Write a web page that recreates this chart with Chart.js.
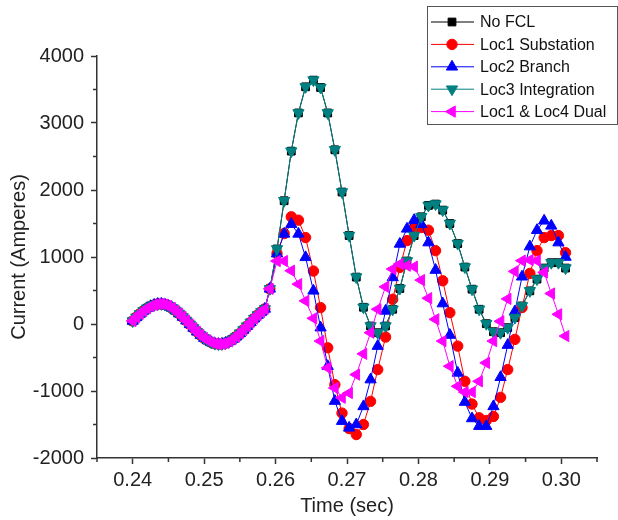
<!DOCTYPE html>
<html>
<head>
<meta charset="utf-8">
<title>Fault current with FCL locations</title>
<script src="https://cdn.jsdelivr.net/npm/chart.js"></script>
<style>
  body { margin: 0; background: #fff; }
  canvas { display: block; }
</style>
</head>
<body>
<canvas id="currentChart" width="618" height="520"></canvas>
<script>
// Before the fault every case gives the same current
const preTimes = [0.2400, 0.2405, 0.2410, 0.2415, 0.2420, 0.2425, 0.2430, 0.2435, 0.2440, 0.2445,
    0.2450, 0.2455, 0.2460, 0.2465, 0.2470, 0.2475, 0.2480, 0.2485, 0.2490, 0.2495,
    0.2500, 0.2505, 0.2510, 0.2515, 0.2520, 0.2525, 0.2530, 0.2535, 0.2540, 0.2545,
    0.2550, 0.2555, 0.2560, 0.2565, 0.2570, 0.2575, 0.2580, 0.2585, 0.2592];
const preVals = [45, 100, 150, 195, 235, 265, 285, 298, 300, 290,
    270, 240, 200, 155, 105, 50, -5, -60, -115, -165,
    -210, -245, -275, -293, -300, -297, -283, -260, -228, -188,
    -140, -88, -32, 24, 80, 133, 180, 225, 525];

// After the fault (about 1 ms between samples)
const postTimes = [0.2602, 0.2612, 0.2622, 0.2632, 0.2642, 0.2653, 0.2663, 0.2673, 0.2683, 0.2693,
    0.2703, 0.2713, 0.2723, 0.2733, 0.2743, 0.2754, 0.2764, 0.2774, 0.2784, 0.2794,
    0.2804, 0.2814, 0.2824, 0.2834, 0.2844, 0.2855, 0.2865, 0.2875, 0.2885, 0.2895,
    0.2905, 0.2915, 0.2925, 0.2935, 0.2945, 0.2956, 0.2966, 0.2976, 0.2986, 0.2996, 0.3006];
const noFclVals = [1120, 1840, 2580, 3150, 3540, 3640, 3530, 3150, 2600, 1970,
    1320, 700, 250, -30, -130, -30, 220, 530, 940, 1320,
    1600, 1770, 1790, 1700, 1500, 1200, 850, 520, 220, 5,
    -115, -130, -55, 95, 270, 495, 670, 835, 915, 915, 835];
const loc1Vals = [1050, 1350, 1600, 1550, 1290, 790, 245, -355, -905, -1330,
    -1560, -1650, -1500, -1155, -680, -195, 370, 845, 1245, 1440,
    1440, 1400, 1095, 645, 170, -330, -855, -1195, -1400, -1440,
    -1380, -1095, -680, -230, 245, 755, 1095, 1290, 1320, 1320, 1065];
const loc2Vals = [1050, 1345, 1490, 1345, 995, 495, -55, -630, -1150, -1450,
    -1550, -1500, -1230, -830, -330, 195, 695, 1195, 1420, 1550,
    1490, 1215, 805, 305, -165, -730, -1165, -1410, -1525, -1525,
    -1230, -795, -315, 185, 705, 1155, 1400, 1540, 1465, 1215, 1000];
const loc3Vals = [1120, 1840, 2580, 3150, 3540, 3640, 3530, 3150, 2600, 1970,
    1320, 700, 250, -30, -130, -30, 220, 530, 940, 1320,
    1600, 1770, 1790, 1700, 1500, 1200, 850, 520, 220, 5,
    -115, -130, -55, 95, 270, 495, 670, 835, 915, 915, 835];
const dualVals = [940, 940, 795, 595, 345, 85, -255, -655, -955, -1100,
    -1030, -755, -445, -130, 220, 555, 820, 895, 870, 855,
    655, 385, 70, -255, -630, -930, -1015, -1015, -855, -580,
    -255, 40, 375, 785, 945, 955, 945, 770, 455, 145, -180];

const seriesNames = ['No FCL', 'Loc1 Substation', 'Loc2 Branch', 'Loc3 Integration', 'Loc1 & Loc4 Dual'];

const xTicks = [0.24, 0.25, 0.26, 0.27, 0.28, 0.29, 0.30];
const xMinor = [0.235, 0.245, 0.255, 0.265, 0.275, 0.285, 0.295, 0.305];
const yTicks = [-2000, -1000, 0, 1000, 2000, 3000, 4000];
const yMinor = [-1500, -500, 500, 1500, 2500, 3500];

const FONT = "'Liberation Sans', Arial, sans-serif";
const AXIS = '#333';

function toPoints(vals) {
    const pts = preTimes.map((t, i) => ({ x: t, y: preVals[i] }));
    return pts.concat(postTimes.map((t, i) => ({ x: t, y: vals[i] })));
}

// marker looks: [colour, style, rotation, radius, draw order]
const looks = [
    ['#000000', 'rect', 0, 5.5, 4],
    ['#ff0000', 'circle', 0, 5.2, 3],
    ['#0000ff', 'triangle', 0, 6.5, 2],
    ['#008080', 'triangle', 180, 6.5, 1],
    ['#ff00ff', 'triangle', 270, 6.5, 0]
];
const allVals = [noFclVals, loc1Vals, loc2Vals, loc3Vals, dualVals];

const datasets = seriesNames.map((name, i) => ({
    label: name,
    data: toPoints(allVals[i]),
    borderColor: looks[i][0],
    backgroundColor: looks[i][0],
    borderWidth: 1,
    pointStyle: looks[i][1],
    pointRotation: looks[i][2],
    pointRadius: looks[i][3],
    pointBorderWidth: 1,
    pointBorderColor: looks[i][0],
    pointBackgroundColor: looks[i][0],
    order: looks[i][4],
    tension: 0,
    fill: false
}));

function drawMarker(ctx, style, rot, r, x, y) {
    ctx.save();
    ctx.translate(x, y);
    ctx.rotate(rot * Math.PI / 180);
    ctx.beginPath();
    if (style === 'circle') {
        ctx.arc(0, 0, r, 0, Math.PI * 2);
    } else if (style === 'rect') {
        const s = r * Math.SQRT1_2;
        ctx.rect(-s, -s, 2 * s, 2 * s);
    } else {
        ctx.moveTo(0, -r);
        ctx.lineTo(r * Math.sin(Math.PI * 2 / 3), -r * Math.cos(Math.PI * 2 / 3));
        ctx.lineTo(r * Math.sin(Math.PI * 4 / 3), -r * Math.cos(Math.PI * 4 / 3));
        ctx.closePath();
    }
    ctx.fill();
    ctx.stroke();
    ctx.restore();
}

// half-way ticks on both axes
const minorTicks = {
    id: 'minorTicks',
    afterDraw(chart) {
        const { ctx, scales: { x, y }, chartArea } = chart;
        ctx.save();
        ctx.strokeStyle = AXIS;
        ctx.lineWidth = 1.5;
        ctx.beginPath();
        xMinor.forEach(v => {
            const px = x.getPixelForValue(v);
            ctx.moveTo(px, chartArea.bottom);
            ctx.lineTo(px, chartArea.bottom + 4);
        });
        yMinor.forEach(v => {
            const py = y.getPixelForValue(v);
            ctx.moveTo(chartArea.left, py);
            ctx.lineTo(chartArea.left - 4, py);
        });
        ctx.stroke();
        ctx.restore();
    }
};

// boxed legend in the top right corner
const boxLegend = {
    id: 'boxLegend',
    afterDraw(chart) {
        const ctx = chart.ctx;
        const left = 427, top = 6, w = 190, h = 118;
        ctx.save();
        ctx.strokeStyle = '#555';
        ctx.lineWidth = 1;
        ctx.strokeRect(left + 0.5, top + 0.5, w, h);
        ctx.font = '16px ' + FONT;
        ctx.textBaseline = 'middle';
        ctx.textAlign = 'left';
        seriesNames.forEach((name, i) => {
            const yy = 22 + i * 22.4;
            const c = looks[i][0];
            ctx.strokeStyle = c;
            ctx.fillStyle = c;
            ctx.lineWidth = 1;
            ctx.beginPath();
            ctx.moveTo(431, yy);
            ctx.lineTo(474, yy);
            ctx.stroke();
            drawMarker(ctx, looks[i][1], looks[i][2], looks[i][3], 452, yy);
            ctx.fillStyle = '#111';
            ctx.fillText(name, 480, yy + 1);
        });
        ctx.restore();
    }
};

const ctx = document.getElementById('currentChart').getContext('2d');
new Chart(ctx, {
    type: 'line',
    data: { datasets: datasets },
    options: {
        responsive: false,
        animation: false,
        layout: { padding: { top: 56, right: 21, left: 0, bottom: 0 } },
        plugins: {
            legend: { display: false },
            tooltip: { enabled: false }
        },
        scales: {
            x: {
                type: 'linear',
                min: 0.235,
                max: 0.305,
                afterFit: s => { s.height = 62; },
                afterBuildTicks: s => { s.ticks = xTicks.map(v => ({ value: v })); },
                grid: { drawOnChartArea: false, tickLength: 6, tickWidth: 1.5, tickColor: AXIS },
                border: { display: true, color: AXIS, width: 1.5 },
                ticks: {
                    color: '#222',
                    font: { family: FONT, size: 20 },
                    padding: 4,
                    maxRotation: 0,
                    callback: v => v.toFixed(2)
                },
                title: {
                    display: true,
                    text: 'Time (sec)',
                    color: '#222',
                    font: { family: FONT, size: 20 },
                    padding: { top: 0, bottom: 2 }
                }
            },
            y: {
                min: -2000,
                max: 4000,
                afterFit: s => { s.width = 97; },
                afterBuildTicks: s => { s.ticks = yTicks.map(v => ({ value: v })); },
                grid: { drawOnChartArea: false, tickLength: 6, tickWidth: 1.5, tickColor: AXIS },
                border: { display: true, color: AXIS, width: 1.5 },
                ticks: {
                    color: '#222',
                    font: { family: FONT, size: 20 },
                    padding: 7,
                    callback: v => String(v)
                },
                title: {
                    display: true,
                    text: 'Current (Amperes)',
                    color: '#222',
                    font: { family: FONT, size: 20 },
                    padding: { top: 7, bottom: 0 }
                }
            }
        }
    },
    plugins: [minorTicks, boxLegend]
});
</script>
</body>
</html>
